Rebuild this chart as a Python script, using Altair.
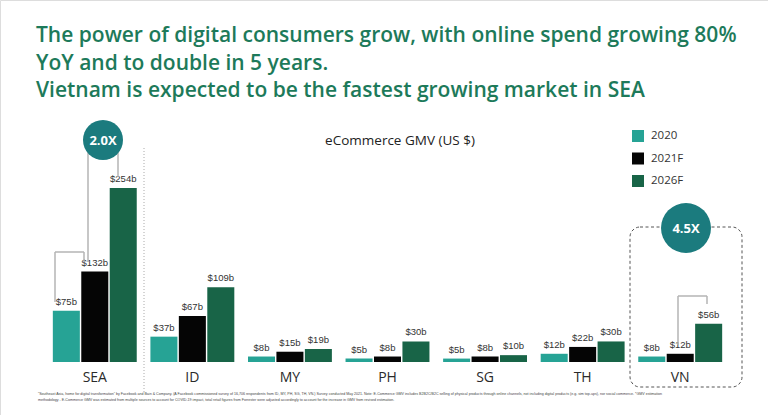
import altair as alt
import pandas as pd

# eCommerce GMV by market, US$ billions
countries = ["SEA", "ID", "MY", "PH", "SG", "TH", "VN"]
years = ["2020", "2021F", "2026F"]
gmv_2020 = [75, 37, 8, 5, 5, 12, 8]
gmv_2021 = [132, 67, 15, 8, 8, 22, 12]
gmv_2026 = [254, 109, 19, 30, 10, 30, 56]
year_colors = ["#26a395", "#050505", "#186447"]

title_lines = [
    "The power of digital consumers grow, with online spend growing 80%",
    "YoY and to double in 5 years.",
    "Vietnam is expected to be the fastest growing market in SEA",
]
subtitle = "eCommerce GMV (US $)"
footnote_lines = [
    "\u201cSoutheast Asia, home for digital transformation\u201d by Facebook and Bain & Company. (A Facebook commissioned survey of 16,706 respondents from ID, MY, PH, SG, TH, VN.) Survey conducted May 2021. Note: E-Commerce GMV includes B2B2C/B2C selling of physical products through online channels, not including digital products (e.g. sim top-ups), nor social commerce. *GMV estimation",
    "methodology - E-Commerce GMV was estimated from multiple sources to account for COVID-19 impact, total retail figures from Forrester were adjusted accordingly to account for the increase in GMV from revised estimation.",
]

rows = []
for i, c in enumerate(countries):
    for y, v in zip(years, [gmv_2020[i], gmv_2021[i], gmv_2026[i]]):
        rows.append({"country": c, "year": y, "gmv": v, "label": f"${v}b"})
df = pd.DataFrame(rows)

W, H = 768, 415
GREEN = "#1d7a5a"
TEAL_DARK = "#1b7b7e"
GREY = "#b5b5b5"

x_scale = alt.Scale(domain=countries, range=[46, 729], paddingInner=0.14, paddingOuter=0.07)
y_scale = alt.Scale(domain=[0, 300], range=[362, 156.5])
off_scale = alt.Scale(domain=years, paddingInner=0.05, paddingOuter=0)

base = alt.Chart(df).encode(
    x=alt.X("country:N", scale=x_scale, axis=None, sort=countries),
    xOffset=alt.XOffset("year:N", scale=off_scale, sort=years),
)

bars = base.mark_bar().encode(
    y=alt.Y("gmv:Q", scale=y_scale, axis=None),
    color=alt.Color(
        "year:N",
        scale=alt.Scale(domain=years, range=year_colors),
        legend=alt.Legend(
            title=None, orient="none", legendX=632, legendY=130,
            symbolType="square", symbolSize=144, symbolStrokeWidth=0,
            labelFontSize=11.5, labelFont="Open Sans", labelColor="#333333",
            rowPadding=10.5, labelOffset=7, padding=0,
        ),
    ),
)

values = base.mark_text(
    baseline="bottom", dy=-4, fontSize=9.5, font="Liberation Sans", color="#333333"
).encode(y=alt.Y("gmv:Q", scale=y_scale), text="label:N")

cats = alt.Chart(pd.DataFrame({"country": countries})).mark_text(
    fontSize=14, font="Open Sans", color="#2a2a2a", baseline="middle"
).encode(
    x=alt.X("country:N", scale=x_scale, axis=None, sort=countries),
    y=alt.value(378),
    text="country:N",
)


def text_at(txt, x, y, **kw):
    return alt.Chart(pd.DataFrame({"t": [txt]})).mark_text(**kw).encode(
        x=alt.value(x), y=alt.value(y), text="t:N"
    )


def seg(x1, y1, x2, y2, color=GREY, width=1.5, dash=None):
    kw = dict(color=color, strokeWidth=width)
    if dash:
        kw["strokeDash"] = dash
    return alt.Chart(pd.DataFrame({"a": [0]})).mark_rule(**kw).encode(
        x=alt.value(x1), y=alt.value(y1), x2=alt.value(x2), y2=alt.value(y2)
    )


layers = [bars, values, cats]

# headline
for i, line in enumerate(title_lines):
    layers.append(text_at(line, 36, 42 + i * 27.5, align="left", baseline="alphabetic",
                          fontSize=21, font="Open Sans", fontWeight=600, color=GREEN))

layers.append(text_at(subtitle, 400, 141, align="center", baseline="middle",
                      fontSize=13.5, font="Open Sans", color="#222222"))

# separator between region total and markets
layers.append(seg(144, 148, 144, 392, color="#aaaaaa", width=1, dash=[1, 2]))

# growth brackets for SEA
layers += [
    seg(55, 252, 55, 302), seg(55, 252, 84, 252), seg(84, 252, 84, 262),
    seg(88, 150, 88, 262), seg(118, 150, 118, 177),
]
# dashed frame and bracket for VN
layers.append(
    alt.Chart(pd.DataFrame({"a": [0]})).mark_rect(
        fillOpacity=0, stroke="#555555", strokeWidth=1, strokeDash=[3, 2.5], cornerRadius=10
    ).encode(x=alt.value(630), x2=alt.value(742), y=alt.value(227), y2=alt.value(387))
)
layers += [seg(678, 296, 678, 345), seg(678, 296, 707, 296), seg(707, 296, 707, 304)]

# multiplier badges
for txt, cx, cy, r in [("2.0X", 103, 140, 20), ("4.5X", 686, 228, 25)]:
    layers.append(
        alt.Chart(pd.DataFrame({"a": [0]})).mark_circle(
            size=(2 * r) ** 2, color=TEAL_DARK, opacity=1
        ).encode(x=alt.value(cx), y=alt.value(cy))
    )
    layers.append(text_at(txt, cx, cy + 1, align="center", baseline="middle",
                          fontSize=13, font="Open Sans", fontWeight=700, color="white"))

for i, line in enumerate(footnote_lines):
    layers.append(text_at(line, 38, 394 + i * 5.5, align="left", baseline="middle",
                          fontSize=3.6, font="Liberation Sans", color="#444444"))

chart = alt.layer(*layers).properties(
    width=W, height=H, padding=0, autosize=alt.AutoSizeParams(type="none")
).configure_view(stroke=None).configure(background="white")

chart.save("out.html", embed_options={"renderer": "svg", "actions": False})
